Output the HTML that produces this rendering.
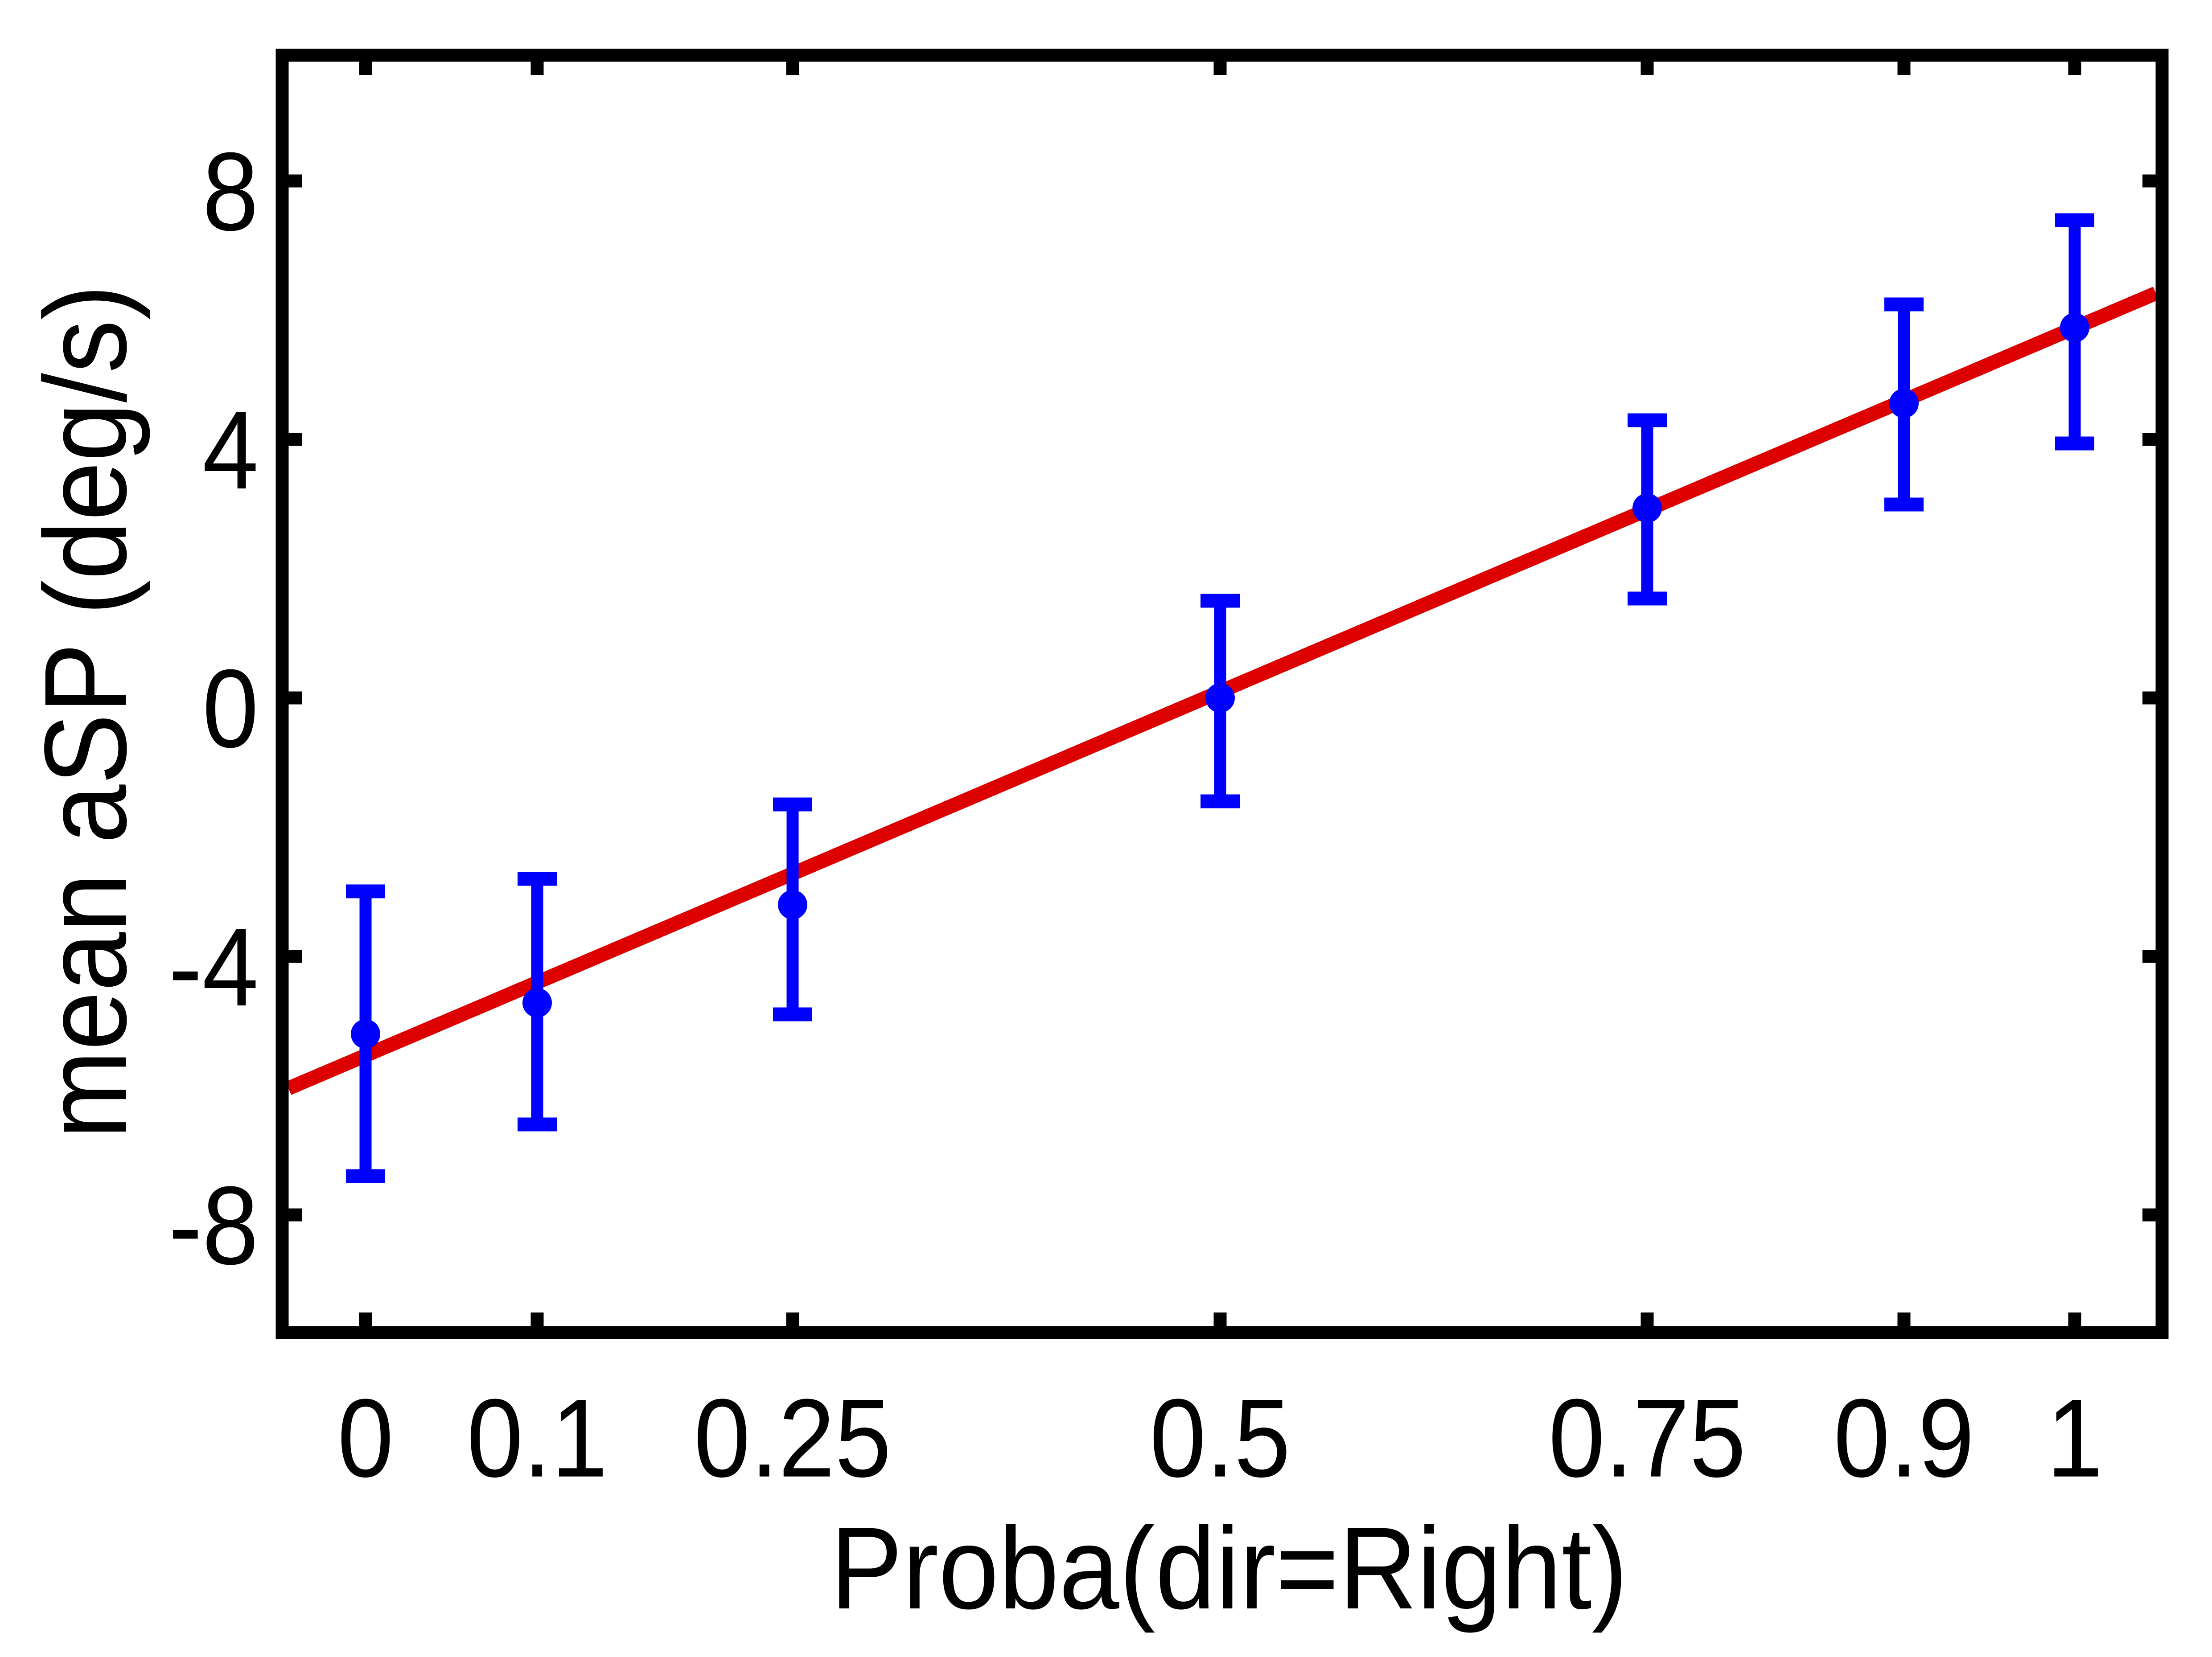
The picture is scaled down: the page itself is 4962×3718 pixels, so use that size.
<!DOCTYPE html>
<html><head><meta charset="utf-8"><style>html,body{margin:0;padding:0;background:#fff}svg{display:block}</style></head>
<body>
<svg width="4962" height="3718" viewBox="0 0 4962 3718" xmlns="http://www.w3.org/2000/svg" font-family="Liberation Sans, Arial, sans-serif">
<rect width="4962" height="3718" fill="#fff"/>
<g stroke="#000" stroke-width="29">
<line x1="820" y1="124" x2="820" y2="168"/><line x1="1205" y1="124" x2="1205" y2="168"/><line x1="1778" y1="124" x2="1778" y2="168"/><line x1="2737" y1="124" x2="2737" y2="168"/><line x1="3695" y1="124" x2="3695" y2="168"/><line x1="4271" y1="124" x2="4271" y2="168"/><line x1="4654" y1="124" x2="4654" y2="168"/>
<line x1="820" y1="2990" x2="820" y2="2945"/><line x1="1205" y1="2990" x2="1205" y2="2945"/><line x1="1778" y1="2990" x2="1778" y2="2945"/><line x1="2737" y1="2990" x2="2737" y2="2945"/><line x1="3695" y1="2990" x2="3695" y2="2945"/><line x1="4271" y1="2990" x2="4271" y2="2945"/><line x1="4654" y1="2990" x2="4654" y2="2945"/>
<line x1="633" y1="406" x2="677" y2="406"/><line x1="633" y1="986" x2="677" y2="986"/><line x1="633" y1="1566" x2="677" y2="1566"/><line x1="633" y1="2146" x2="677" y2="2146"/><line x1="633" y1="2726" x2="677" y2="2726"/>
<line x1="4850" y1="406" x2="4806" y2="406"/><line x1="4850" y1="986" x2="4806" y2="986"/><line x1="4850" y1="1566" x2="4806" y2="1566"/><line x1="4850" y1="2146" x2="4806" y2="2146"/><line x1="4850" y1="2726" x2="4806" y2="2726"/>
</g>
<line x1="647" y1="2442" x2="4836" y2="658" stroke="#dd0000" stroke-width="32"/>
<g stroke="#0000ff" stroke-width="27" fill="#0000ff">
<line x1="820" y1="2000" x2="820" y2="2639"/><line x1="776" y1="2000" x2="864" y2="2000" stroke-width="31"/><line x1="776" y1="2639" x2="864" y2="2639" stroke-width="31"/>
<line x1="1205" y1="1972" x2="1205" y2="2523"/><line x1="1161" y1="1972" x2="1249" y2="1972" stroke-width="31"/><line x1="1161" y1="2523" x2="1249" y2="2523" stroke-width="31"/>
<line x1="1778" y1="1805" x2="1778" y2="2276"/><line x1="1734" y1="1805" x2="1822" y2="1805" stroke-width="31"/><line x1="1734" y1="2276" x2="1822" y2="2276" stroke-width="31"/>
<line x1="2737" y1="1348" x2="2737" y2="1798"/><line x1="2693" y1="1348" x2="2781" y2="1348" stroke-width="31"/><line x1="2693" y1="1798" x2="2781" y2="1798" stroke-width="31"/>
<line x1="3695" y1="943" x2="3695" y2="1343"/><line x1="3651" y1="943" x2="3739" y2="943" stroke-width="31"/><line x1="3651" y1="1343" x2="3739" y2="1343" stroke-width="31"/>
<line x1="4271" y1="683" x2="4271" y2="1132"/><line x1="4227" y1="683" x2="4315" y2="683" stroke-width="31"/><line x1="4227" y1="1132" x2="4315" y2="1132" stroke-width="31"/>
<line x1="4654" y1="494" x2="4654" y2="995"/><line x1="4610" y1="494" x2="4698" y2="494" stroke-width="31"/><line x1="4610" y1="995" x2="4698" y2="995" stroke-width="31"/>
<g stroke="none">
<circle cx="820" cy="2320" r="33"/><circle cx="1205" cy="2250" r="33"/><circle cx="1778" cy="2030" r="33"/><circle cx="2737" cy="1566" r="33"/><circle cx="3695" cy="1140" r="33"/><circle cx="4271" cy="905" r="33"/><circle cx="4654" cy="735" r="33"/>
</g>
</g>
<rect x="633" y="124" width="4217" height="2866" fill="none" stroke="#000" stroke-width="29"/>
<g font-size="250" fill="#000">
<g text-anchor="middle" lengthAdjust="spacingAndGlyphs">
<text x="820" y="3313" textLength="126" lengthAdjust="spacingAndGlyphs">0</text>
<text x="1205" y="3313" textLength="316" lengthAdjust="spacingAndGlyphs">0.1</text>
<text x="1778" y="3313" textLength="443" lengthAdjust="spacingAndGlyphs">0.25</text>
<text x="2737" y="3313" textLength="316" lengthAdjust="spacingAndGlyphs">0.5</text>
<text x="3695" y="3313" textLength="443" lengthAdjust="spacingAndGlyphs">0.75</text>
<text x="4271" y="3313" textLength="316" lengthAdjust="spacingAndGlyphs">0.9</text>
<text x="4654" y="3313" textLength="126" lengthAdjust="spacingAndGlyphs">1</text>
</g>
<g text-anchor="end">
<text x="580" y="516" textLength="126" lengthAdjust="spacingAndGlyphs">8</text>
<text x="580" y="1096" textLength="126" lengthAdjust="spacingAndGlyphs">4</text>
<text x="580" y="1676" textLength="126" lengthAdjust="spacingAndGlyphs">0</text>
<text x="580" y="2256" textLength="202" lengthAdjust="spacingAndGlyphs">-4</text>
<text x="580" y="2836" textLength="202" lengthAdjust="spacingAndGlyphs">-8</text>
</g>
</g>
<text x="2757" y="3609" font-size="262" text-anchor="middle" textLength="1789" lengthAdjust="spacingAndGlyphs">Proba(dir=Right)</text>
<text transform="translate(282,1597) rotate(-90)" font-size="262" text-anchor="middle" textLength="1917" lengthAdjust="spacingAndGlyphs">mean aSP (deg/s)</text>
</svg>
</body></html>
